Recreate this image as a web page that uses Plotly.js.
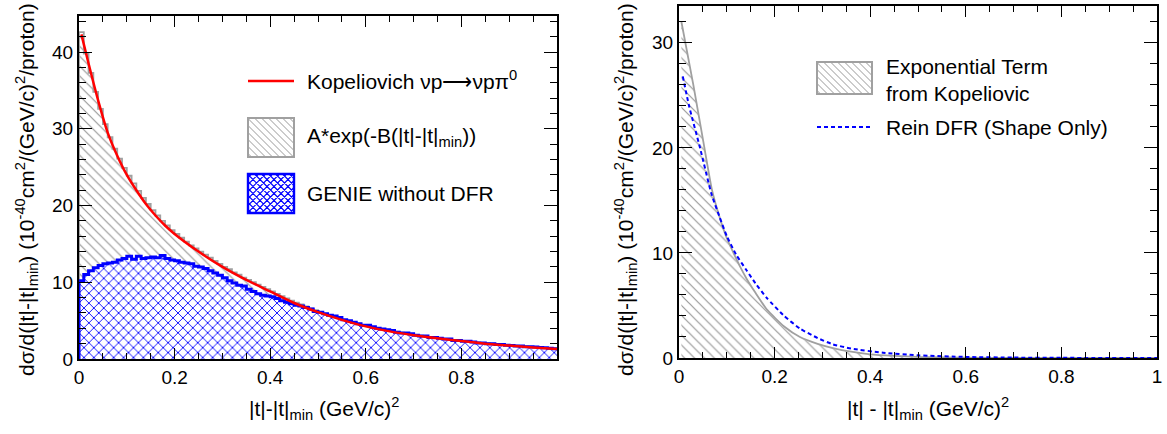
<!DOCTYPE html>
<html><head><meta charset="utf-8">
<script src="https://cdn.plot.ly/plotly-3.0.1.min.js"></script>
<style>body{margin:0;background:#fff}#chart{width:1167px;height:434px}</style>
</head><body><div id="chart"></div>
<script>
const W = 1167, H = 434;
const FONT = 'Liberation Sans, Arial, Helvetica, sans-serif';

// ---------- data ----------
const binWidth = 0.01;
// Left: A*exp(-B(|t|-|t|min)) histogram, 100 bins from 0 to 1
const expHist = [
  42.6,39.8,37.3,34.8,32.6,30.6,28.9,27.4,26.1,24.9,
  23.9,22.9,21.9,21.0,20.2,19.4,18.7,18.0,17.4,16.8,
  16.3,15.8,15.3,14.8,14.4,14.0,13.6,13.2,12.8,12.4,
  12.0,11.7,11.3,11.0,10.6,10.3,10.0,9.7,9.4,9.1,
  8.8,8.5,8.2,7.9,7.6,7.35,7.1,6.85,6.6,6.35,
  6.1,5.9,5.7,5.5,5.3,5.1,4.95,4.8,4.6,4.45,
  4.3,4.15,4.0,3.9,3.75,3.65,3.55,3.45,3.35,3.25,
  3.15,3.05,2.95,2.85,2.75,2.7,2.6,2.55,2.45,2.4,
  2.35,2.3,2.2,2.15,2.1,2.05,2.0,1.95,1.9,1.85,
  1.8,1.75,1.7,1.65,1.6,1.55,1.5,1.45,1.4,1.35];
// Left: GENIE without DFR histogram, 100 bins from 0 to 1
const genieHist = [
  10.2,11.0,11.5,11.9,12.2,12.4,12.5,12.6,12.9,13.1,
  13.4,13.0,13.4,13.1,13.2,13.3,13.2,13.5,13.1,12.9,
  12.8,12.6,12.5,12.4,12.1,12.0,11.8,11.5,11.2,10.9,
  10.6,10.2,9.9,9.6,9.5,9.1,8.8,8.5,8.3,8.2,
  8.1,7.9,7.6,7.4,7.2,7.0,6.9,6.7,6.5,6.2,
  6.1,5.9,5.7,5.6,5.4,5.1,5.0,4.8,4.6,4.4,
  4.4,4.2,4.0,3.9,3.8,3.7,3.5,3.4,3.4,3.3,
  3.1,3.0,3.0,2.8,2.8,2.7,2.6,2.6,2.4,2.4,
  2.3,2.3,2.2,2.1,2.1,2.0,2.0,1.9,1.9,1.8,
  1.75,1.7,1.7,1.6,1.6,1.55,1.5,1.45,1.4,1.35];
// Left: Kopeliovich curve
const kopT = [0.005,0.02,0.04,0.06,0.08,0.10,0.12,0.14,0.16,0.18,0.20,0.25,0.30,0.35,0.40,0.45,0.50,0.55,0.60,0.65,0.70,0.75,0.80,0.85,0.90,0.95,1.00];
const kopXsec = [42.3,38.5,33.7,29.5,26.5,24.0,22.0,20.2,18.7,17.4,16.3,14.0,12.0,10.3,8.8,7.3,6.1,5.1,4.25,3.6,3.1,2.7,2.35,2.0,1.75,1.5,1.3];
// Right: exponential term and Rein DFR shape
const expT = [0.005,0.03,0.052,0.069,0.085,0.1,0.113,0.13,0.142,0.16,0.184,0.22,0.253,0.29,0.322,0.36,0.4,0.45,0.5,0.6,0.7,0.85,1.0];
const expXsec = [32.0,26.0,20.3,16.0,13.4,11.4,10.1,8.5,7.5,6.2,4.6,3.0,2.0,1.35,0.95,0.6,0.35,0.2,0.1,0.03,0.01,0,0];
const reinT = [0.008,0.021,0.044,0.068,0.085,0.1,0.12,0.142,0.16,0.184,0.22,0.253,0.29,0.322,0.36,0.427,0.5,0.6,0.7,0.8,1.0];
const reinXsec = [26.8,24.0,20.0,15.6,13.4,11.6,9.8,8.3,7.1,5.7,4.0,2.8,1.9,1.3,0.9,0.5,0.25,0.1,0.04,0.015,0];

const leftXTicks = [0,0.2,0.4,0.6,0.8];
const rightXTicks = [0,0.2,0.4,0.6,0.8,1];

// legend / title texts
const legLeft = ['Kopeliovich \u03BDp\u27F6\u03BDp\u03C0<sup>0</sup>', 'A*exp(-B(|t|-|t|<sub>min</sub>))', 'GENIE without DFR'];
const legRight = ['Exponential Term<br>from Kopeliovic', 'Rein DFR (Shape Only)'];
const yTitle = 'd\u03C3/d(|t|-|t|<sub>min</sub>) (10<sup>-40</sup>cm<sup>2</sup>/(GeV/c)<sup>2</sup>/proton)';
const xTitleLeft = '|t|-|t|<sub>min</sub> (GeV/c)<sup>2</sup>';
const xTitleRight = '|t| - |t|<sub>min</sub> (GeV/c)<sup>2</sup>';

// ---------- helpers ----------
function stepXY(vals){
  const x=[0], y=[0];
  vals.forEach((v,i)=>{ x.push(i*binWidth); y.push(v); });
  x.push(vals.length*binWidth); y.push(vals[vals.length-1]);
  return {x, y};
}
const px = x => x / W;
const py = y => 1 - y / H;
function hatchPath(x0,y0,x1,y1,s,dir){
  let p='';
  if(dir==='\\'){
    for(let c=x0-y1+s/2; c<x1-y0; c+=s){
      const ya=Math.max(y0,x0-c), yb=Math.min(y1,x1-c);
      if(yb>ya) p+=`M${px(ya+c)},${py(ya)}L${px(yb+c)},${py(yb)}`;
    }
  } else {
    for(let c=x0+y0+s/2; c<x1+y1; c+=s){
      const ya=Math.max(y0,c-x1), yb=Math.min(y1,c-x0);
      if(yb>ya) p+=`M${px(c-ya)},${py(ya)}L${px(c-yb)},${py(yb)}`;
    }
  }
  return p;
}

const GRAY = '#a0a0a0', HATCH = '#999999', BLUE = '#0000ff', RED = '#ff0000';
const gs = stepXY(expHist), bs = stepXY(genieHist);

const traces = [
  {x: gs.x, y: gs.y, xaxis:'x', yaxis:'y', mode:'lines', line:{shape:'hv', color:GRAY, width:1.8},
   fill:'tozeroy', fillcolor:'white', fillpattern:{shape:'\\', fgcolor:HATCH, bgcolor:'white', size:7, solidity:0.17},
   name: legLeft[1], showlegend:false, hoverinfo:'skip'},
  {x: bs.x, y: bs.y, xaxis:'x', yaxis:'y', mode:'lines', line:{shape:'hv', color:BLUE, width:3},
   fill:'tozeroy', fillcolor:'white', fillpattern:{shape:'x', fgcolor:BLUE, bgcolor:'white', size:7, solidity:0.24},
   name: legLeft[2], showlegend:false, hoverinfo:'skip'},
  {x: kopT, y: kopXsec, xaxis:'x', yaxis:'y', mode:'lines', line:{shape:'spline', smoothing:0.6, color:RED, width:2.5},
   name: legLeft[0], showlegend:false},
  {x: expT, y: expXsec, xaxis:'x2', yaxis:'y2', mode:'lines', line:{shape:'spline', smoothing:0.5, color:GRAY, width:1.8},
   fill:'tozeroy', fillcolor:'white', fillpattern:{shape:'\\', fgcolor:HATCH, bgcolor:'white', size:7, solidity:0.17},
   name: 'Exponential Term from Kopeliovic', showlegend:false},
  {x: reinT, y: reinXsec, xaxis:'x2', yaxis:'y2', mode:'lines', line:{shape:'spline', smoothing:0.5, color:BLUE, width:2, dash:'4px,3px'},
   name: legRight[1], showlegend:false}
];

function axisX(domain, ticks){
  return {domain, range:[0,1], showline:true, linecolor:'black', linewidth:2, mirror:'ticks',
    ticks:'inside', ticklen:11, tickwidth:1.3, tickcolor:'black', tickmode:'array', tickvals:ticks,
    ticktext: ticks.map(v=>String(v)),
    minor:{ticks:'inside', ticklen:6, tickwidth:1, tickcolor:'black', tickmode:'linear', tick0:0, dtick:0.05},
    showgrid:false, zeroline:false, tickfont:{family:FONT, size:19, color:'black'}, fixedrange:true};
}
function axisY(domain, top){
  return {domain, range:[0,top], showline:true, linecolor:'black', linewidth:2, mirror:'ticks',
    ticks:'inside', ticklen:13, tickwidth:1.3, tickcolor:'black', dtick:10, tick0:0,
    minor:{ticks:'inside', ticklen:7, tickwidth:1, tickcolor:'black', dtick:2},
    showgrid:false, zeroline:false, tickfont:{family:FONT, size:19, color:'black'}, fixedrange:true};
}
const xa1 = axisX([px(79), px(557)], leftXTicks); xa1.anchor='y';
const xa2 = axisX([px(679), px(1157)], rightXTicks); xa2.anchor='y2';
const ya1 = axisY([py(359), py(16)], 44.7); ya1.anchor='x';
const ya2 = axisY([py(358), py(6)], 33.5); ya2.anchor='x2';

const ann = (text, x, y, opts={}) => Object.assign({text, x:px(x), y:py(y), xref:'paper', yref:'paper', showarrow:false,
  xanchor:'left', yanchor:'middle', font:{family:FONT, size:21, color:'black'}}, opts);

const annotations = [
  ann(legLeft[0], 305, 80),
  ann(legLeft[1], 305, 137),
  ann(legLeft[2], 305, 194),
  ann(legRight[0], 884, 80, {align:'left'}),
  ann(legRight[1], 884, 127),
  ann(yTitle, 26, 190, {textangle:-90, xanchor:'center', yanchor:'middle'}),
  ann(yTitle, 625, 190, {textangle:-90, xanchor:'center', yanchor:'middle'}),
  ann(xTitleLeft, 324, 408, {xanchor:'center'}),
  ann(xTitleRight, 928, 408, {xanchor:'center'})
];

const shapes = [
  {type:'line', xref:'paper', yref:'paper', x0:px(248), x1:px(294), y0:py(81), y1:py(81), line:{color:RED, width:2.5}},
  {type:'path', xref:'paper', yref:'paper', path:hatchPath(248,118,294,157,7,'\\'), line:{color:HATCH, width:1}},
  {type:'rect', xref:'paper', yref:'paper', x0:px(248), x1:px(294), y0:py(157), y1:py(118), line:{color:GRAY, width:2}},
  {type:'path', xref:'paper', yref:'paper', path:hatchPath(248,174,294,213,7,'\\')+hatchPath(248,174,294,213,7,'/'), line:{color:BLUE, width:1.1}},
  {type:'rect', xref:'paper', yref:'paper', x0:px(248), x1:px(294), y0:py(213), y1:py(174), line:{color:BLUE, width:2.4}},
  {type:'path', xref:'paper', yref:'paper', path:hatchPath(817,62,872,94,7,'\\'), line:{color:HATCH, width:1}},
  {type:'rect', xref:'paper', yref:'paper', x0:px(817), x1:px(872), y0:py(94), y1:py(62), line:{color:GRAY, width:2}},
  {type:'line', xref:'paper', yref:'paper', x0:px(817), x1:px(870), y0:py(127), y1:py(127), line:{color:BLUE, width:2, dash:'4px,3px'}}
];

const layout = {
  width:W, height:H, margin:{l:0,r:0,t:0,b:0}, paper_bgcolor:'white', plot_bgcolor:'white',
  showlegend:false, font:{family:FONT, color:'black'},
  xaxis:xa1, yaxis:ya1, xaxis2:xa2, yaxis2:ya2, annotations, shapes
};
Plotly.newPlot('chart', traces, layout, {displayModeBar:false});
</script></body></html>
